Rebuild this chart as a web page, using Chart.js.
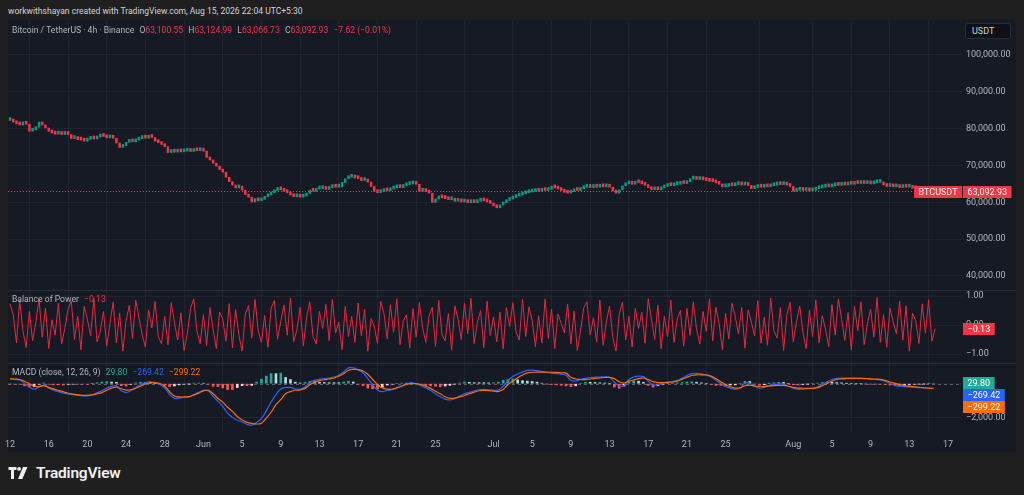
<!DOCTYPE html>
<html>
<head>
<meta charset="utf-8">
<script src="https://cdn.jsdelivr.net/npm/chart.js@4.4.1/dist/chart.umd.min.js"></script>
<style>
  html, body { margin: 0; padding: 0; background: #1f1f1f; width: 1024px; height: 495px; overflow: hidden; font-family: Roboto, sans-serif; }
  #credit { position: absolute; left: 8px; top: 5px; font-size: 8.55px; line-height: 12px; color: #d1d4dc; white-space: nowrap; }
  #frame { position: absolute; left: 8px; top: 20px; width: 1008px; height: 432px; background: #161a25; }
  #frame canvas { position: absolute; left: -5px; top: 0; }
  .leg { position: absolute; left: 4px; font-size: 8.6px; line-height: 10px; color: #b2b5be; white-space: nowrap; }
  .leg span { margin-left: 3px; }
  .red { color: #f23645; }
  .leg .v { margin-left: 0; }
  #usdt { position: absolute; left: 957px; top: 3px; width: 46px; height: 16px; box-sizing: border-box; background: #0e1016; border: 1px solid #2a2e39; border-radius: 3px; color: #d1d4dc; font-size: 9px; line-height: 14px; padding-left: 6px; }
  #logo { position: absolute; left: 8px; top: 464px; height: 18px; display: flex; align-items: center; color: #f0f0f0; font-size: 15.5px; font-weight: 600; letter-spacing: -0.2px; }
  #logo svg { margin-right: 7px; }
</style>
</head>
<body>
<div id="credit">workwithshayan created with TradingView.com, Aug 15, 2026 22:04 UTC+5:30</div>
<div id="frame">
  <canvas id="tv" width="1013" height="432"></canvas>
  <div class="leg" style="top:5px">Bitcoin / TetherUS · 4h · Binance <span>O</span><span class="red v">63,100.55</span> <span>H</span><span class="red v">63,124.99</span> <span>L</span><span class="red v">63,066.73</span> <span>C</span><span class="red v">63,092.93</span> <span class="red">−7.62 (−0.01%)</span></div>
  <div class="leg" style="top:274px">Balance of Power <span class="red">−0.13</span></div>
  <div class="leg" style="top:347px">MACD (close, 12, 26, 9) <span style="color:#22ab94">29.80</span> <span style="color:#2962ff">−269.42</span> <span style="color:#ff6d00">−299.22</span></div>
  <div id="usdt">USDT</div>
</div>
<div id="logo">
  <svg width="21" height="12" viewBox="0 0 20 12"><path d="M0 0h8v3H5.5v9h-3V3H0z" fill="#f0f0f0"/><circle cx="10.6" cy="1.9" r="1.9" fill="#f0f0f0"/><path d="M14.5 0h4.5l-5.2 12H9.5z" fill="#f0f0f0"/></svg>TradingView
</div>

<script>
  // closes every 8h, May 12 00:00 -> Aug 15 16:00 (3 per day)
  const closes = [
    82200,81800,81300, 81000,81400,81200, 79300,79700,80400, 81800,81000,80200,
    79300,78800,78500, 78700,78400,78600, 78400,77300,77500, 77000,76900,76600,
    77100,77400,77200, 77700,78000,77900, 77500,77800,77400, 76100,74900,75400,
    76300,76700,76400, 76900,77300,77600, 77400,77800,77600, 76600,76200,75700,
    75100,73500,73900, 73600,74000,73700, 73900,74100,73800, 74200,74000,74300,
    73900,72200,71500, 70600,69800,68900, 68200,66800,65600, 64700,63900,64400,
    63300,62100,61400, 60100,61000,60400, 60800,61500,62000, 62600,63200,63800,
    63400,63000,62600, 62000,61500,61800, 61400,61700,62400, 63300,63000,63600,
    63700,63900,63500, 64000,64300,64100, 64200,65400,66400, 66800,67100,66600,
    66400,65900,66000, 65500,64300,63000, 62600,62900,63200, 63100,63600,63900,
    64200,64000,64500, 64800,65000,65300, 64900,63000,63300, 62900,62500,60000,
    60900,61400,61200, 61000,60700,60900, 60300,60600,60100, 60200,59900,60300,
    59900,60300,60700, 60400,60100,59700, 59000,58500,59300, 59900,60500,60900,
    61300,61700,62000, 62300,62600,62800, 62900,63200,63000, 63400,63200,63500,
    64400,63900,63600, 63200,62700,62500, 62900,63400,63200, 63700,64100,64300,
    64000,64300,64100, 64400,64200,64500, 64100,63100,62500, 63400,64500,65000,
    65100,64900,65400, 65300,65000,64600, 64000,63400,63600, 63400,63900,64300,
    64700,64500,64800, 64900,65200,65100, 65600,66300,66500, 66200,66400,66100,
    65900,65700,65600, 65300,64900,64200, 64300,64600,64500, 64800,65000,64700,
    65200,64600,63700, 64000,64300,64100, 64400,64200,64500, 64700,64900,64800,
    65200,64700,64300, 63000,63300,63500, 63200,63400,63100, 63300,63700,63900,
    64100,64300,64200, 64500,64700,64600, 64900,64700,65000, 64900,65200,65100,
    65300,65100,65200, 65000,65300,65400, 65400,64700,64300, 64400,64200,64300,
    64000,64300,64100, 64100,63800,63700, 63400,63200,63500, 63300,63200,63092.93
  ];

  // balance of power, same 8h steps
  const bop = [
    0.72,0.35,-0.62,0.85,-0.2,-0.78,0.48,-0.55,0.1,0.9,-0.42,0.58,
    -0.81,0.18,-0.35,0.76,-0.66,-0.12,0.55,0.83,-0.5,0.3,-0.86,0.64,
    0.2,-0.38,0.92,-0.58,-0.22,0.47,-0.73,0.05,0.79,-0.62,0.4,-0.9,
    0.15,0.68,-0.47,0.86,0.25,-0.33,-0.76,0.52,-0.1,0.81,-0.4,-0.65,
    0.3,-0.69,0.77,0.1,-0.52,0.42,-0.88,-0.3,0.57,0.9,-0.22,-0.64,
    0.36,-0.71,0.6,-0.15,-0.82,0.45,0.2,-0.56,0.74,-0.79,0.53,-0.35,
    -0.9,0.38,0.67,-0.45,0.88,-0.2,-0.61,0.33,-0.77,0.58,0.84,-0.49,
    0.12,0.69,-0.35,0.93,-0.57,-0.18,0.61,-0.72,0.26,0.8,-0.4,-0.66,
    0.47,-0.12,0.71,-0.54,0.88,-0.28,0.1,-0.85,0.64,-0.4,0.3,-0.6,
    0.76,-0.37,0.55,-0.9,0.22,-0.05,-0.63,0.82,0.4,-0.48,0.7,-0.25,
    0.9,-0.68,0.15,0.35,-0.8,0.57,-0.42,0.78,-0.1,-0.6,0.3,0.62,
    -0.74,0.85,-0.33,-0.55,0.4,-0.87,0.66,0.2,-0.5,0.75,-0.3,0.92,
    -0.64,0.1,0.5,-0.78,0.82,-0.36,0.28,-0.58,0.45,-0.83,0.6,-0.05,
    0.77,-0.24,-0.52,0.88,-0.4,0.63,0.15,-0.75,0.32,-0.62,0.9,-0.46,
    0.55,-0.81,0.38,0.05,-0.27,0.72,-0.66,0.48,-0.88,-0.2,0.6,0.8,
    -0.35,0.25,-0.58,0.86,-0.7,0.1,0.65,-0.43,-0.9,0.37,0.79,-0.52,
    0.3,-0.76,0.58,-0.12,0.44,-0.63,0.91,0.2,-0.5,0.68,-0.82,0.3,
    -0.41,0.86,-0.6,0.2,0.5,-0.73,0.57,-0.36,0.8,-0.15,-0.66,0.47,
    -0.22,0.9,-0.55,0.62,0.05,-0.85,0.4,-0.48,0.75,0.3,-0.31,0.6,
    -0.8,0.52,0.1,-0.38,0.84,-0.63,0.27,-0.7,0.93,-0.2,-0.45,0.6,
    -0.88,0.35,0.78,-0.57,0.1,0.66,-0.26,-0.82,0.5,-0.4,0.87,-0.61,
    0.32,-0.15,-0.75,0.7,-0.35,0.9,0.2,-0.53,0.43,-0.86,0.64,-0.2,
    0.8,-0.68,0.05,0.55,-0.42,0.95,-0.6,0.36,-0.77,0.58,0.1,-0.3,
    0.83,-0.52,0.66,-0.9,0.41,0.15,-0.64,0.73,-0.28,0.87,-0.56,-0.13
  ];

  // MACD(12,26,9) and signal, read every 12h
  const macdLine = [
    280,250,220,20,-200,-330,-200,-80,-250,-380,
    -470,-560,-610,-650,-690,-720,-730,-650,-540,-430,
    -260,-160,-120,-420,-520,-400,-220,-60,60,120,
    60,-40,-250,-650,-870,-860,-820,-780,-650,-520,
    -400,-420,-750,-1050,-1350,-1750,-2000,-2180,-2280,-2420,
    -2470,-2300,-2080,-1600,-1100,-650,-320,-230,-220,-300,
    -330,-200,80,200,260,310,340,400,500,700,
    940,950,820,650,300,-50,-380,-470,-400,-360,
    -250,-120,-20,50,0,-120,-250,-400,-600,-780,
    -920,-970,-880,-740,-600,-520,-440,-360,-340,-360,
    -380,-380,-150,200,430,580,700,790,810,780,
    720,670,630,600,560,500,200,150,250,320,
    360,390,400,410,380,100,-150,-100,250,400,
    450,420,150,-80,-50,30,90,120,200,330,
    480,600,620,580,520,400,200,20,-170,-260,
    -330,-250,20,40,-150,-270,-220,-120,-50,-20,
    -20,-150,-280,-335,-320,-290,-275,-200,-50,120,
    250,320,340,330,320,320,320,300,270,250,
    230,150,20,-100,-150,-180,-200,-215,-230,-250,
    -260,-269.42
  ];
  const signalLine = [
    300,280,250,150,0,-150,-170,-120,-220,-310,
    -400,-480,-570,-620,-660,-690,-690,-660,-600,-530,
    -380,-260,-200,-300,-380,-360,-270,-150,-20,60,
    50,10,-150,-480,-730,-790,-790,-770,-680,-560,
    -430,-400,-600,-880,-1100,-1400,-1650,-1950,-2160,-2300,
    -2370,-2400,-2350,-2050,-1700,-1250,-950,-600,-470,-390,
    -370,-280,-60,80,180,240,280,340,440,600,
    800,850,840,760,560,250,-60,-250,-320,-330,
    -250,-150,-40,0,0,-60,-150,-280,-450,-600,
    -780,-870,-860,-780,-700,-600,-500,-420,-400,-410,
    -440,-470,-350,-50,150,350,520,640,680,690,
    690,680,680,670,650,630,380,280,250,240,
    280,320,350,370,380,300,120,40,150,220,
    300,340,250,120,70,60,80,100,150,260,
    380,490,530,530,520,450,300,120,-60,-180,
    -260,-250,-120,-90,-130,-180,-160,-130,-110,-100,
    -100,-150,-220,-260,-270,-275,-275,-230,-120,20,
    160,250,290,310,320,320,320,310,290,275,
    260,200,100,20,-50,-110,-150,-180,-210,-240,
    -270,-299.22
  ];

  // x axis is in days since May 12
  const dayTicks = [0, 4, 8, 12, 16, 20, 24, 28, 32, 36, 40, 44, 50, 54, 58, 62, 66, 70, 74, 81, 85, 89, 93, 97];
  const dayLabels = ["12", "16", "20", "24", "28", "Jun", "5", "9", "13", "17", "21", "25",
    "Jul", "5", "9", "13", "17", "21", "25", "Aug", "5", "9", "13", "17"];
  const priceTicks = [40000, 50000, 60000, 70000, 80000, 90000, 100000];
  const bopTicks = [-1, 0, 1];
  const macdTicks = [-2000, 0];

  const GRID = 'rgba(42,46,57,0.55)';
  const TXT = '#b2b5be';
  const FONT = { family: 'Roboto', size: 9 };

  const fmt = function (v) {
    let s = Math.abs(v).toLocaleString('en-US', { minimumFractionDigits: 2, maximumFractionDigits: 2 });
    return v < 0 ? '\u2212' + s : s;
  };

  // candle bodies approximated as prev close -> close
  const candles = closes.map((c, i) => ({ x: i / 3, y: [i ? closes[i - 1] : c, c] }));
  const candleColors = closes.map((c, i) => (i && c < closes[i - 1]) ? '#f23645' : '#089981');
  const hist = macdLine.map((m, i) => m - signalLine[i]);
  const histColors = hist.map(function (h, i) {
    let p = i ? hist[i - 1] : h;
    if (h >= 0) { return h > p ? '#26a69a' : '#b2dfdb'; }
    return h > p ? '#ffcdd2' : '#ff5252';
  });

  const yAxis = function (weight, min, max, ticks) {
    return {
      type: 'linear', position: 'right', stack: 'panes', stackWeight: weight,
      min: min, max: max, offset: false,
      afterBuildTicks: function (scale) { scale.ticks = ticks.map(v => ({ value: v })); },
      afterFit: function (scale) { scale.width = 54; scale.paddingTop = 0; scale.paddingBottom = 0; },
      grid: { color: GRID, drawTicks: false, tickLength: 0 },
      border: { display: false },
      ticks: { color: TXT, font: FONT, padding: 4, crossAlign: 'near', callback: v => fmt(v) }
    };
  };

  const tag = function (ctx, x, y, text, bg) {
    let w = ctx.measureText(text).width + 9;
    ctx.fillStyle = bg;
    ctx.fillRect(x, Math.round(y) - 6, w, 12);
    ctx.fillStyle = '#ffffff';
    ctx.fillText(text, x + 4.5, Math.round(y) + 0.5);
    return w;
  };

  const panesPlugin = {
    id: 'panes',
    beforeDatasetsDraw(chart) {
      const { ctx, chartArea, scales } = chart;
      ctx.save();
      ctx.strokeStyle = '#2a2e39';
      ctx.lineWidth = 1;
      [scales.yBop.top, scales.yMacd.top].forEach(function (y) {
        ctx.beginPath();
        ctx.moveTo(chartArea.left, Math.round(y) + 0.5);
        ctx.lineTo(chart.width, Math.round(y) + 0.5);
        ctx.stroke();
      });
      // macd zero line
      let yz = Math.round(scales.yMacd.getPixelForValue(0)) + 0.5;
      ctx.setLineDash([3, 3]);
      ctx.strokeStyle = 'rgba(120,123,134,0.7)';
      ctx.beginPath(); ctx.moveTo(chartArea.left, yz); ctx.lineTo(chartArea.right, yz); ctx.stroke();
      ctx.restore();
    },
    afterDatasetsDraw(chart) {
      const { ctx, chartArea, scales } = chart;
      const last = closes[closes.length - 1];
      let yp = Math.round(scales.yPrice.getPixelForValue(last)) + 0.5;
      ctx.save();
      ctx.setLineDash([1, 2]);
      ctx.strokeStyle = '#f23645';
      ctx.beginPath(); ctx.moveTo(chartArea.left, yp); ctx.lineTo(chartArea.right, yp); ctx.stroke();
      ctx.setLineDash([]);
      ctx.font = '9px Roboto';
      ctx.textBaseline = 'middle';
      ctx.textAlign = 'left';
      let x0 = chartArea.right + 1;
      tag(ctx, x0, yp, fmt(last), '#f23645');
      let w = ctx.measureText('BTCUSDT').width + 9;
      tag(ctx, chartArea.right - w, yp, 'BTCUSDT', '#f23645');
      tag(ctx, x0, scales.yBop.getPixelForValue(bop[bop.length - 1]), fmt(bop[bop.length - 1]), '#f23645');
      // macd tags pushed apart like the platform does
      let items = [
        [hist[hist.length - 1], '#22ab94'],
        [macdLine[macdLine.length - 1], '#2962ff'],
        [signalLine[signalLine.length - 1], '#ff6d00']
      ];
      let prev = -1e9;
      items.forEach(function (it) {
        let y = Math.max(scales.yMacd.getPixelForValue(it[0]), prev + 12);
        tag(ctx, x0, y, fmt(it[0]), it[1]);
        prev = y;
      });
      ctx.restore();
    }
  };

  new Chart(document.getElementById('tv'), {
    data: {
      datasets: [
        {
          type: 'line', yAxisID: 'yMacd', data: signalLine.map((v, i) => ({ x: i / 2, y: v })),
          borderColor: '#ff6d00', borderWidth: 1.2, pointRadius: 0, tension: 0.4
        },
        {
          type: 'line', yAxisID: 'yMacd', data: macdLine.map((v, i) => ({ x: i / 2, y: v })),
          borderColor: '#2962ff', borderWidth: 1.2, pointRadius: 0, tension: 0.4
        },
        {
          type: 'bar', yAxisID: 'yMacd', data: hist.map((v, i) => ({ x: i / 2, y: v })),
          backgroundColor: histColors, barThickness: 2, grouped: false
        },
        {
          type: 'line', yAxisID: 'yBop', data: bop.map((v, i) => ({ x: i / 3, y: v })),
          borderColor: '#e8283f', borderWidth: 1, pointRadius: 0, tension: 0
        },
        {
          type: 'bar', yAxisID: 'yPrice', data: candles,
          backgroundColor: candleColors, barThickness: 1.8, minBarLength: 3, grouped: false
        }
      ]
    },
    options: {
      responsive: false,
      animation: false,
      layout: { padding: { left: 5 } },
      plugins: { legend: { display: false }, tooltip: { enabled: false } },
      scales: {
        x: {
          type: 'linear', min: -0.21, max: 98.45, offset: false,
          afterBuildTicks: function (scale) { scale.ticks = dayTicks.map(v => ({ value: v })); },
          afterFit: function (scale) { scale.height = 20; scale.paddingLeft = 0; scale.paddingRight = 0; },
          grid: { color: GRID, drawTicks: false, tickLength: 0 },
          border: { display: false },
          ticks: { color: TXT, font: FONT, padding: 7, maxRotation: 0, autoSkip: false,
            callback: (v, i) => dayLabels[i] }
        },
        yPrice: yAxis(270, 36193, 109503, priceTicks),
        yBop: yAxis(73, -1.31, 1.207, bopTicks),
        yMacd: yAxis(69, -2875, 1232, macdTicks)
      }
    },
    plugins: [panesPlugin]
  });
</script>
</body>
</html>
